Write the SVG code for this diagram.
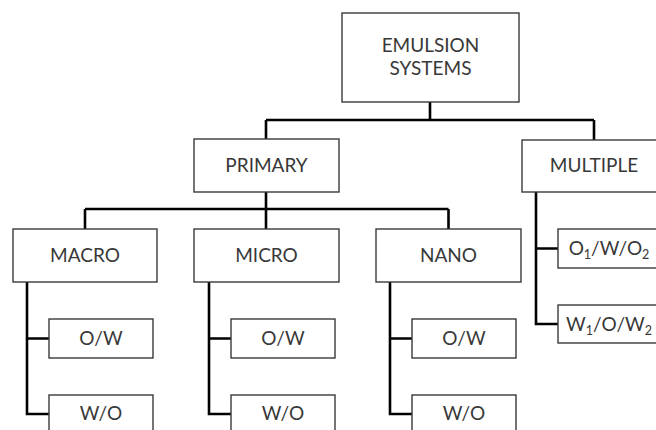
<svg xmlns="http://www.w3.org/2000/svg" width="656" height="430" viewBox="0 0 656 430">
<style>
.box{fill:#fff;stroke:#3a3a3a;stroke-width:1.4}
.lbl{font-family:Lato,"Liberation Sans",Arial,sans-serif;font-size:19px;fill:#383838;text-anchor:middle}
.sub{font-size:12.5px}
.con{fill:none;stroke:#000;stroke-width:2.6}
</style>
<rect width="656" height="430" fill="#fff"/>
<g id="connectors">
<path class="con" d="M430,102V120M266,120H594M266,120V139M594,120V140"/>
<path class="con" d="M266,192V209M85,209H448.5M85,209V229M266,209V229M448.5,209V229"/>
<path class="con" d="M27,282V414H49M27,338.5H49"/>
<path class="con" d="M209,282V414H231M209,338.5H231"/>
<path class="con" d="M390,282V414H412M390,338.5H412"/>
<path class="con" d="M536,192V324H558M536,248.5H558"/>
</g>
<g id="emulsion"><rect class="box" x="342" y="13" width="177" height="89"/><text class="lbl" x="430.5" y="52">EMULSION</text><text class="lbl" x="430.5" y="75">SYSTEMS</text></g>
<g id="primary"><rect class="box" x="194" y="139" width="145" height="53"/><text class="lbl" x="266.5" y="172">PRIMARY</text></g>
<g id="multiple"><rect class="box" x="522" y="140" width="144" height="52"/><text class="lbl" x="594" y="172">MULTIPLE</text></g>
<g id="macro"><rect class="box" x="13" y="229" width="144" height="53"/><text class="lbl" x="85" y="262">MACRO</text></g>
<g id="micro"><rect class="box" x="194" y="229" width="145" height="53"/><text class="lbl" x="266.5" y="262">MICRO</text></g>
<g id="nano"><rect class="box" x="376" y="229" width="145" height="53"/><text class="lbl" x="448.5" y="262">NANO</text></g>
<g id="macro-ow"><rect class="box" x="49" y="319" width="104" height="39"/><text class="lbl" x="101" y="345">O/W</text></g>
<g id="macro-wo"><rect class="box" x="49" y="395" width="104" height="39"/><text class="lbl" x="101" y="420">W/O</text></g>
<g id="micro-ow"><rect class="box" x="231" y="319" width="104" height="39"/><text class="lbl" x="283" y="345">O/W</text></g>
<g id="micro-wo"><rect class="box" x="231" y="395" width="104" height="39"/><text class="lbl" x="283" y="420">W/O</text></g>
<g id="nano-ow"><rect class="box" x="412" y="319" width="104" height="39"/><text class="lbl" x="464" y="345">O/W</text></g>
<g id="nano-wo"><rect class="box" x="412" y="395" width="104" height="39"/><text class="lbl" x="464" y="420">W/O</text></g>
<g id="o1wo2"><rect class="box" x="558" y="229" width="104" height="39"/><text class="lbl" x="609" y="255">O<tspan class="sub" dy="4">1</tspan><tspan dy="-4">/W/O</tspan><tspan class="sub" dy="4">2</tspan></text></g>
<g id="w1ow2"><rect class="box" x="558" y="305" width="104" height="38"/><text class="lbl" x="609" y="331">W<tspan class="sub" dy="4">1</tspan><tspan dy="-4">/O/W</tspan><tspan class="sub" dy="4">2</tspan></text></g>
</svg>
